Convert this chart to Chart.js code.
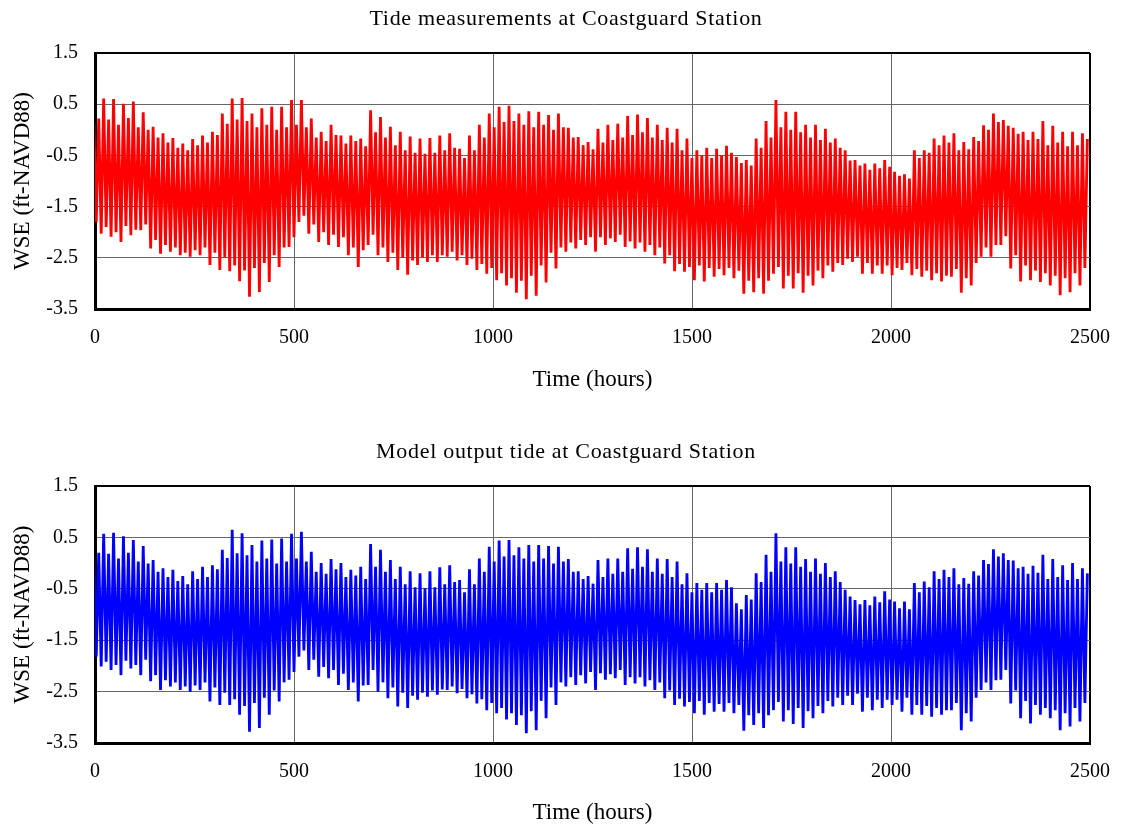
<!DOCTYPE html>
<html><head><meta charset="utf-8">
<script src="https://cdn.jsdelivr.net/npm/chart.js@4.4.1/dist/chart.umd.min.js"></script>
<style>
html,body{margin:0;padding:0;background:#fff;}
#wrap{position:relative;width:1121px;height:827px;overflow:hidden;}
.box{position:absolute;left:0;width:1121px;}
</style></head><body>
<div id="wrap">
<div class="box" style="top:0;height:400px"><canvas id="c1"></canvas></div>
<div class="box" style="top:420px;height:407px"><canvas id="c2"></canvas></div>
</div>
<script>
// ---- text / ticks ----
const titleTop = 'Tide measurements at Coastguard Station';
const titleBottom = 'Model output tide at Coastguard Station';
const xAxisTitle = 'Time (hours)';
const yAxisTitle = 'WSE (ft-NAVD88)';
const xTicks = [0, 500, 1000, 1500, 2000, 2500];
const yTicks = [-3.5, -2.5, -1.5, -0.5, 0.5, 1.5];

// ---- time base: one tidal day holds LL, HH, HL, LH in turn ----
const TIDAL_DAY = 24.84;   // hours
const FIRST_LOW = -9.25;   // hour of the first lower low

const measLL = [-1.60,
 -2.03,-2.09,-2.19,-2.06,-1.96,-2.32,-2.42,-2.38,-2.45,-2.48,-2.45,-2.64,-2.74,-2.76,-2.96,-3.26,-3.17,-2.97,-2.68,-2.29,-1.80,-2.03,-2.19,-2.25,-2.29,-2.45,-2.68,-2.25,-2.45,-2.58,-2.74,-2.83,-2.64,
 -2.58,-2.58,-2.48,-2.55,-2.64,-2.74,-2.81,-2.94,-3.04,-3.18,-3.31,-3.24,-2.98,-2.71,-2.38,-2.32,-2.25,-2.38,-2.25,-2.19,-2.29,-2.32,-2.38,-2.45,-2.61,-2.76,-2.77,-2.94,-2.96,-2.87,-2.84,-2.90,-3.20,
 -3.17,-3.20,-2.81,-3.10,-3.10,-3.18,-3.04,-2.90,-2.77,-2.64,-2.58,-2.81,-2.81,-2.81,-2.84,-2.74,-2.84,-2.87,-2.94,-2.96,-2.87,-3.18,-3.04,-2.48,-2.48,-2.25,-2.71,-2.96,-2.94,-2.97,-3.04,-3.23,-3.17,-3.04];
const measHH = [0.15,
 0.61,0.60,0.51,0.55,0.34,0.06,-0.07,-0.16,-0.27,-0.18,-0.11,-0.04,0.32,0.61,0.62,0.32,0.42,0.45,0.45,0.58,0.58,0.22,-0.04,0.10,-0.11,-0.11,-0.17,0.38,0.25,0.06,-0.04,-0.13,-0.17,
 -0.16,-0.11,-0.07,-0.37,-0.11,0.10,0.32,0.45,0.47,0.32,0.36,0.35,0.29,0.32,0.04,-0.14,-0.24,0.02,0.10,0.12,0.27,0.30,0.23,0.10,0.04,0.02,-0.17,-0.40,-0.35,-0.37,-0.31,-0.53,-0.59,
 -0.17,0.17,0.58,0.35,0.35,0.10,0.10,0.02,-0.17,-0.40,-0.59,-0.66,-0.66,-0.59,-0.82,-0.87,-0.40,-0.40,-0.17,-0.11,-0.07,-0.24,-0.14,0.09,0.32,0.19,0.04,-0.04,-0.04,0.17,0.08,-0.04,-0.04,-0.07];
const measHL = [-1.80,-1.90,-2.00,-1.88,-1.95,-1.85,
 -2.15,-2.25,-2.30,-2.40,-2.35,-2.30,
 -2.40,-2.50,-2.65,-2.75,-2.70,-2.60,-2.45,-2.30,-2.10,
 -1.68,-1.85,-2.00,-2.05,-2.10,-2.30,-2.35,
 -2.05,-2.30,-2.40,-2.50,-2.55,-2.50,
 -2.45,-2.45,-2.38,-2.45,-2.52,-2.62,
 -2.70,-2.80,-2.90,-2.95,-2.85,-2.65,-2.40,-2.30,
 -2.20,-2.15,-2.10,-2.10,-2.12,-2.05,-2.18,-2.20,-2.25,-2.30,
 -2.45,-2.62,-2.68,-2.65,-2.70,-2.72,-2.70,-2.75,-2.95,
 -2.90,-2.95,-2.68,-2.85,-2.80,-2.85,-2.75,-2.65,-2.60,
 -2.52,-2.48,-2.60,-2.65,-2.65,-2.70,-2.60,-2.72,
 -2.75,-2.80,-2.85,-2.72,-2.90,-2.60,
 -2.30,-2.25,-2.08,-2.45,
 -2.65,-2.75,-2.80,-2.85,-2.90,-2.80,-2.70];
const measLH = [0.22,0.20,0.10,0.23,0.05,0.00,
 -0.15,-0.25,-0.35,-0.40,-0.30,-0.25,
 -0.10,0.12,0.20,0.17,0.05,0.10,0.00,0.05,0.10,
 0.05,-0.15,-0.22,-0.10,-0.27,-0.22,-0.32,
 -0.05,-0.15,-0.30,-0.40,-0.45,-0.47,
 -0.45,-0.40,-0.35,-0.55,-0.40,-0.15,
 0.05,0.15,0.17,0.10,0.05,0.10,0.00,0.05,
 -0.15,-0.30,-0.38,-0.25,-0.20,-0.15,-0.10,-0.05,-0.15,-0.20,
 -0.25,-0.40,-0.55,-0.50,-0.55,-0.50,-0.45,-0.65,-0.70,
 -0.35,-0.15,0.05,0.00,-0.05,-0.15,-0.20,-0.25,-0.35,
 -0.60,-0.70,-0.78,-0.75,-0.72,-0.90,-0.95,-0.55,
 -0.45,-0.30,-0.25,-0.40,-0.38,-0.22,
 0.00,0.15,0.08,-0.08,
 -0.20,-0.18,-0.30,-0.25,-0.32,-0.30,-0.18];

// ---- Model output tide ----
const modelLL = [-1.65,
 -2.01,-2.08,-2.18,-2.05,-2.18,-2.30,-2.47,-2.40,-2.47,-2.50,-2.47,-2.69,-2.76,-2.76,-2.95,-3.28,-3.21,-2.95,-2.69,-2.27,-1.82,-2.08,-2.21,-2.24,-2.37,-2.47,-2.69,-2.37,-2.50,-2.63,-2.79,-2.82,-2.66,
 -2.60,-2.56,-2.47,-2.53,-2.63,-2.73,-2.86,-2.92,-3.04,-3.15,-3.31,-3.25,-3.02,-2.76,-2.40,-2.37,-2.34,-2.47,-2.27,-2.24,-2.37,-2.34,-2.40,-2.47,-2.63,-2.76,-2.79,-2.92,-2.95,-2.89,-2.89,-2.92,-3.26,
 -3.15,-3.21,-2.86,-3.08,-3.13,-3.21,-3.02,-2.92,-2.79,-2.76,-2.76,-2.89,-2.86,-2.82,-2.76,-2.89,-2.95,-2.95,-2.99,-2.95,-2.86,-3.25,-3.08,-2.47,-2.47,-2.27,-2.73,-3.02,-3.12,-2.95,-3.02,-3.25,-3.18,-3.08];
const modelHH = [0.15,
 0.57,0.59,0.52,0.45,0.33,0.06,-0.10,-0.13,-0.25,-0.16,-0.07,-0.04,0.26,0.65,0.58,0.35,0.44,0.46,0.48,0.57,0.61,0.22,0.00,0.08,0.00,-0.13,-0.07,0.37,0.26,0.06,-0.07,-0.16,-0.20,
 -0.16,-0.08,-0.04,-0.33,-0.12,0.09,0.32,0.44,0.45,0.31,0.35,0.35,0.33,0.32,0.08,-0.16,-0.25,0.06,0.09,0.09,0.29,0.31,0.27,0.09,0.08,0.03,-0.20,-0.39,-0.39,-0.39,-0.33,-0.78,-0.62,
 -0.20,0.16,0.58,0.31,0.31,0.08,0.09,0.00,-0.16,-0.52,-0.72,-0.72,-0.65,-0.55,-0.75,-0.75,-0.39,-0.36,-0.16,-0.13,-0.10,-0.29,-0.16,0.06,0.27,0.19,0.05,-0.07,-0.05,0.16,0.08,-0.04,0.00,-0.10];
const modelHL = [-1.82,-1.92,-1.98,-1.90,-1.98,-1.88,
 -2.18,-2.28,-2.32,-2.40,-2.38,-2.32,
 -2.42,-2.52,-2.65,-2.78,-2.72,-2.62,-2.48,-2.32,-2.12,
 -1.70,-1.88,-2.02,-2.08,-2.15,-2.32,-2.38,
 -2.08,-2.32,-2.42,-2.52,-2.58,-2.52,
 -2.48,-2.46,-2.40,-2.45,-2.55,-2.65,
 -2.72,-2.82,-2.92,-2.96,-2.88,-2.68,-2.42,-2.32,
 -2.22,-2.18,-2.12,-2.14,-2.16,-2.08,-2.22,-2.22,-2.28,-2.32,
 -2.48,-2.64,-2.70,-2.68,-2.72,-2.74,-2.72,-2.76,-2.96,
 -2.92,-2.96,-2.70,-2.86,-2.82,-2.88,-2.78,-2.68,-2.62,
 -2.58,-2.54,-2.62,-2.66,-2.66,-2.66,-2.62,-2.76,
 -2.78,-2.82,-2.86,-2.72,-2.92,-2.62,
 -2.32,-2.28,-2.08,-2.48,
 -2.68,-2.76,-2.82,-2.86,-2.92,-2.82,-2.72];
const modelLH = [0.20,0.18,0.09,0.20,0.03,-0.01,
 -0.17,-0.27,-0.35,-0.41,-0.31,-0.27,
 -0.12,0.10,0.19,0.15,0.03,0.09,-0.01,0.03,0.09,
 0.03,-0.17,-0.21,-0.12,-0.27,-0.24,-0.31,
 -0.07,-0.17,-0.31,-0.41,-0.47,-0.49,
 -0.47,-0.41,-0.37,-0.57,-0.41,-0.17,
 0.03,0.13,0.15,0.09,0.03,0.09,-0.01,0.03,
 -0.17,-0.31,-0.40,-0.27,-0.21,-0.17,-0.11,-0.07,-0.17,-0.21,
 -0.27,-0.41,-0.57,-0.52,-0.57,-0.52,-0.47,-0.90,-0.71,
 -0.37,-0.17,0.03,-0.01,-0.07,-0.17,-0.21,-0.27,-0.37,
 -0.65,-0.80,-0.82,-0.76,-0.71,-0.88,-0.90,-0.57,
 -0.47,-0.31,-0.27,-0.41,-0.40,-0.24,
 -0.02,0.13,0.06,-0.10,
 -0.21,-0.19,-0.31,-0.27,-0.33,-0.31,-0.20];

function buildSeries(ll, hh, hl, lh) {
  const pts = [];
  const q = TIDAL_DAY / 4;
  for (let j = 0; j < ll.length; j++) {
    const t = FIRST_LOW + j * TIDAL_DAY;
    pts.push({x: t, y: ll[j]}, {x: t + q, y: hh[j]}, {x: t + 2 * q, y: hl[j]}, {x: t + 3 * q, y: lh[j]});
  }
  return pts;
}

const panelTitlePlugin = {
  id: 'panelTitle',
  afterDraw(chart, args, opts) {
    const ctx = chart.ctx;
    ctx.save();
    ctx.font = '22px "Liberation Serif"';
    try { ctx.letterSpacing = '0.7px'; } catch (e) {}
    ctx.fillStyle = '#000';
    ctx.textAlign = 'center';
    ctx.textBaseline = 'middle';
    ctx.fillText(opts.text, opts.x, opts.y);
    ctx.restore();
  }
};

const SERIF = 'Liberation Serif';

function makeChart(id, series, color, title, cfg) {
  return new Chart(document.getElementById(id), {
    type: 'line',
    data: { datasets: [{ data: series, borderColor: color, backgroundColor: color, borderWidth: 2.8,
      pointRadius: 0, tension: 0, fill: false, borderJoinStyle: 'miter' }] },
    plugins: [panelTitlePlugin],
    options: {
      responsive: true, maintainAspectRatio: false, animation: false, parsing: false, normalized: true,
      layout: { padding: { top: cfg.padTop, right: 31, left: 0, bottom: 0 } },
      plugins: {
        legend: { display: false }, tooltip: { enabled: false },
        panelTitle: { text: title, x: 566, y: cfg.titleY }
      },
      scales: {
        x: {
          type: 'linear', min: xTicks[0], max: xTicks[xTicks.length - 1],
          afterFit(s) { s.height = cfg.xAxisH; s.paddingRight = 0; s.paddingLeft = 0; },
          afterBuildTicks(s) { s.ticks = xTicks.map(v => ({ value: v })); },
          ticks: { padding: 17, color: '#000', font: { family: SERIF, size: 20 }, maxRotation: 0, autoSkip: false,
                   callback: v => String(v) },
          grid: { drawTicks: false,
                  color: c => (c.tick && c.tick.value === 2500) ? '#000' : '#666666',
                  lineWidth: c => (c.tick && c.tick.value === 2500) ? 2 : 1 },
          border: { display: true, color: '#000', width: 3 },
          title: { display: true, text: xAxisTitle, color: '#000', font: { family: SERIF, size: 23 },
                   padding: { top: 0, bottom: cfg.xTitlePad } }
        },
        y: {
          min: yTicks[0], max: yTicks[yTicks.length - 1],
          afterFit(s) { s.width = 95; s.paddingTop = 0; s.paddingBottom = 0; },
          afterBuildTicks(s) { s.ticks = yTicks.map(v => ({ value: v })); },
          ticks: { padding: 17, color: '#000', font: { family: SERIF, size: 20 }, callback: v => Number(v).toFixed(1) },
          grid: { drawTicks: false,
                  color: c => (c.tick && c.tick.value === 1.5) ? '#000' : '#666666',
                  lineWidth: c => (c.tick && c.tick.value === 1.5) ? 2 : 1 },
          border: { display: true, color: '#000', width: 3 },
          title: { display: true, text: yAxisTitle, color: '#000', font: { family: SERIF, size: 23 },
                   padding: { top: 9, bottom: 0 } }
        }
      }
    }
  });
}

makeChart('c1', buildSeries(measLL, measHH, measHL, measLH), '#ff0000', titleTop,
  { padTop: 53, xAxisH: 91, xTitlePad: 6, titleY: 19 });
makeChart('c2', buildSeries(modelLL, modelHH, modelHL, modelLH), '#0000ff', titleBottom,
  { padTop: 66, xAxisH: 84, xTitlePad: 0, titleY: 32 });
</script>
</body></html>
